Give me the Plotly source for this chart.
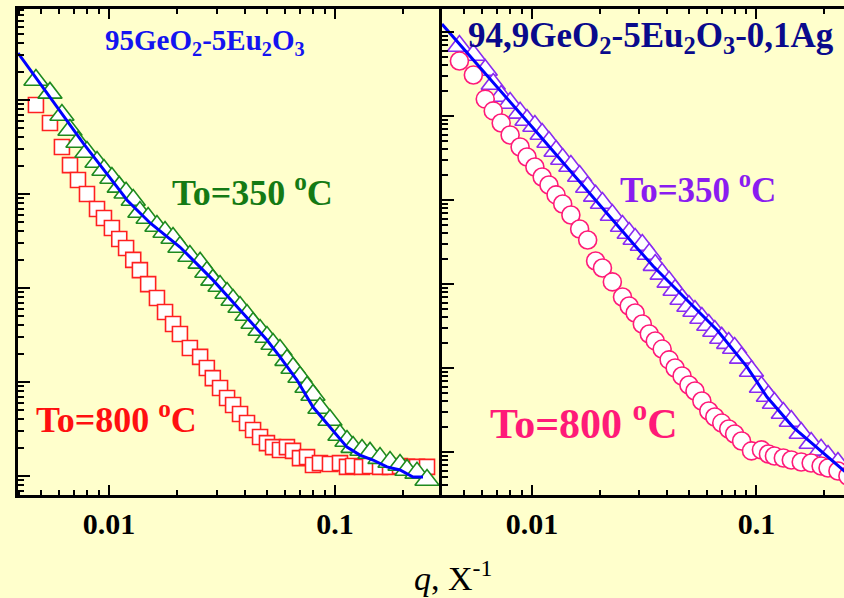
import plotly.graph_objects as go

# Scattering vector q (1/Angstrom), shared by all curves
q = [0.00475, 0.00548, 0.00619, 0.00672, 0.00729, 0.00799, 0.00885, 0.00950, 0.0103, 0.0111,
     0.0119, 0.0128, 0.0137, 0.0149, 0.0163, 0.0177, 0.0192, 0.0206, 0.0228, 0.0253,
     0.0271, 0.0288, 0.0310, 0.0333, 0.0354, 0.0380, 0.0408, 0.0434, 0.0466, 0.0500,
     0.0532, 0.0571, 0.0613, 0.0652, 0.0700, 0.0752, 0.0799, 0.0858, 0.0950, 0.1052,
     0.1130, 0.1202, 0.1317, 0.1429, 0.1582, 0.1752, 0.1940, 0.2083, 0.2306, 0.2554]

# 95GeO2-5Eu2O3 glass
I_eu_350 = [16300, 11900, 6930, 4800, 3570, 2800, 2190, 1800, 1480, 1190,
            1030, 864, 643, 556, 457, 394, 340, 273, 219, 185,
            148, 122, 105, 88.5, 74.5, 62.8, 51.6, 42.4, 35.7, 30.1,
            25.4, 21.9, 17.1, 14.1, 11.3, 8.85, 7.27, 5.29, 3.94, 2.73,
            2.36, 2.03, 1.89, 1.76, 1.55, 1.41, 1.31, 1.16, 1.08, 0.906]
I_eu_800 = [8850, 5690, 3160, 2030, 1410, 1000, 693, 555, 435, 332,
            266, 199, 155, 110, 78.3, 55.5, 41.4, 32.4, 23.0, 18.5,
            14.1, 11.0, 8.64, 6.76, 5.69, 4.57, 3.66, 3.09, 2.60, 2.24,
            2.03, 1.89, 2.03, 1.85, 1.55, 1.59, 1.31, 1.37, 1.34, 1.37,
            1.25, 1.28, 1.25, 1.28, 1.25, 1.25, 1.28, 1.25, 1.25, 1.25]
fit_q_eu = [0.00396, 0.00548, 0.00767, 0.01085, 0.0120, 0.0152, 0.0206, 0.0253, 0.0288, 0.0380,
            0.0500, 0.0571, 0.0679, 0.0799, 0.0950, 0.1130, 0.1290, 0.1473, 0.1699, 0.1940,
            0.2214, 0.2451]
fit_I_eu = [31600, 10800, 3490, 1190, 864, 492, 273, 167, 122, 58.3,
            28.0, 18.5, 10.5, 5.42, 3.32, 2.03, 1.67, 1.48, 1.25, 1.16,
            0.976, 0.976]

# 94.9GeO2-5Eu2O3-0.1Ag glass
I_ag_350 = [68100, 53200, 35300, 24000, 17300, 14300, 10900, 8960, 7600, 6110,
            4900, 3830, 3080, 2540, 1930, 1430, 1120, 921, 663, 490,
            405, 343, 291, 228, 168, 132, 106, 84.8, 66.3, 54.7,
            47.7, 39.4, 32.5, 27.6, 22.8, 19.8, 17.3, 13.2, 9.21, 5.94,
            4.64, 3.83, 2.91, 2.34, 1.68, 1.28, 1.06, 0.896, 0.740, 0.611]
I_ag_800 = [45200, 30800, 15900, 11500, 8250, 5940, 4280, 3250, 2470, 1880,
            1510, 1150, 896, 663, 452, 334, 188, 155, 106, 70.0,
            54.7, 45.2, 33.4, 25.4, 21.0, 16.8, 12.5, 10.0, 8.03, 6.28,
            5.32, 4.05, 3.08, 2.61, 2.21, 1.88, 1.64, 1.35, 1.03, 1.06,
            0.947, 0.896, 0.848, 0.803, 0.760, 0.740, 0.681, 0.645, 0.594, 0.518]
fit_q_ag = [0.00397, 0.01086, 0.02936, 0.0346, 0.0490, 0.0667, 0.0907, 0.1114, 0.1455, 0.1918,
            0.2428, 0.261]
fit_I_ag = [124500, 5780, 268, 164, 64.5, 28.3, 10.3, 4.52, 1.98, 1.06,
            0.611, 0.518]

x_tick_vals = [0.01, 0.1]
x_tick_text = ["0.01", "0.1"]

BG = "#FFFFCC"
SERIF = "Liberation Serif"
W, H = 844, 598

fig = go.Figure()

# left panel
fig.add_trace(go.Scatter(x=q, y=I_eu_800, mode="markers", xaxis="x", yaxis="y",
                         marker=dict(symbol="square", size=15, color="white",
                                     line=dict(color="#FF2020", width=1.6))))
fig.add_trace(go.Scatter(x=q, y=I_eu_350, mode="markers", xaxis="x", yaxis="y",
                         marker=dict(symbol="triangle-up", size=21, color="white",
                                     line=dict(color="#1E8A1E", width=1.6))))
fig.add_trace(go.Scatter(x=fit_q_eu, y=fit_I_eu, mode="lines", xaxis="x", yaxis="y",
                         line=dict(color="#0000FF", width=3)))

# right panel
fig.add_trace(go.Scatter(x=q, y=I_ag_350, mode="markers", xaxis="x2", yaxis="y2",
                         marker=dict(symbol="triangle-up", size=21, color="white",
                                     line=dict(color="#8A2BF0", width=1.6))))
fig.add_trace(go.Scatter(x=q, y=I_ag_800, mode="markers", xaxis="x2", yaxis="y2",
                         marker=dict(symbol="circle", size=18, color="white",
                                     line=dict(color="#FF1A78", width=1.6))))
fig.add_trace(go.Scatter(x=fit_q_ag, y=fit_I_ag, mode="lines", xaxis="x2", yaxis="y2",
                         line=dict(color="#0000FF", width=3)))

x_left = [18 / W, 442 / W]
x_right = [442 / W, 1.0]
y_dom = [1 - 495 / H, 1 - 9 / H]

minor_x = dict(ticks="inside", ticklen=5, tickwidth=2, tickcolor="black", dtick="D1", showgrid=False)
minor_y = dict(ticks="inside", ticklen=6, tickwidth=2, tickcolor="black", dtick="D1", showgrid=False)
tickfont = dict(family=SERIF, size=30, color="black", weight="bold")

xbase = dict(type="log", showline=True, linewidth=3, linecolor="black", mirror="ticks",
             ticks="inside", ticklen=10, tickwidth=2, tickcolor="black",
             tickmode="array", tickvals=x_tick_vals, ticktext=x_tick_text,
             tickfont=tickfont, minor=minor_x, showgrid=False, zeroline=False)
ybase = dict(type="log", showline=True, linewidth=3, linecolor="black", mirror=False,
             ticks="inside", ticklen=12, tickwidth=2, tickcolor="black", dtick=1,
             showticklabels=False, minor=minor_y, showgrid=False, zeroline=False)

fig.update_layout(
    width=W, height=H, margin=dict(l=0, r=0, t=0, b=0),
    paper_bgcolor=BG, plot_bgcolor=BG, showlegend=False,
    xaxis=dict(xbase, domain=x_left, range=[-2.4027, -0.5265], anchor="y"),
    yaxis=dict(ybase, domain=y_dom, range=[-0.202, 4.968], anchor="x"),
    xaxis2=dict(xbase, domain=x_right, range=[-2.4009, -0.6102], anchor="y2"),
    yaxis2=dict(ybase, domain=y_dom, range=[-0.512, 5.274], anchor="x2"),
)

def label(text, x, y, color, size, xanchor="left"):
    fig.add_annotation(text=text, x=x / W, y=1 - y / H, xref="paper", yref="paper",
                       xanchor=xanchor, yanchor="middle", showarrow=False,
                       font=dict(family=SERIF, size=size, color=color))

label("<b>95GeO<sub>2</sub>-5Eu<sub>2</sub>O<sub>3</sub></b>", 103, 42, "#1414F0", 29)
label("<b>94,9GeO<sub>2</sub>-5Eu<sub>2</sub>O<sub>3</sub>-0,1Ag</b>", 466, 38, "#0A0A8C", 35)
label("<b>To=350 <sup>o</sup>C</b>", 170, 190, "#147A14", 36)
label("<b>To=800 <sup>o</sup>C</b>", 34, 417, "#FF1010", 36)
label("<b>To=350 <sup>o</sup>C</b>", 618, 187, "#8A1CF0", 35)
label("<b>To=800 <sup>o</sup>C</b>", 488, 420, "#FF1A78", 42)
label("<i>q</i>, X<sup>-1</sup>", 453, 576, "black", 34, xanchor="center")

fig.write_html("out.html")
